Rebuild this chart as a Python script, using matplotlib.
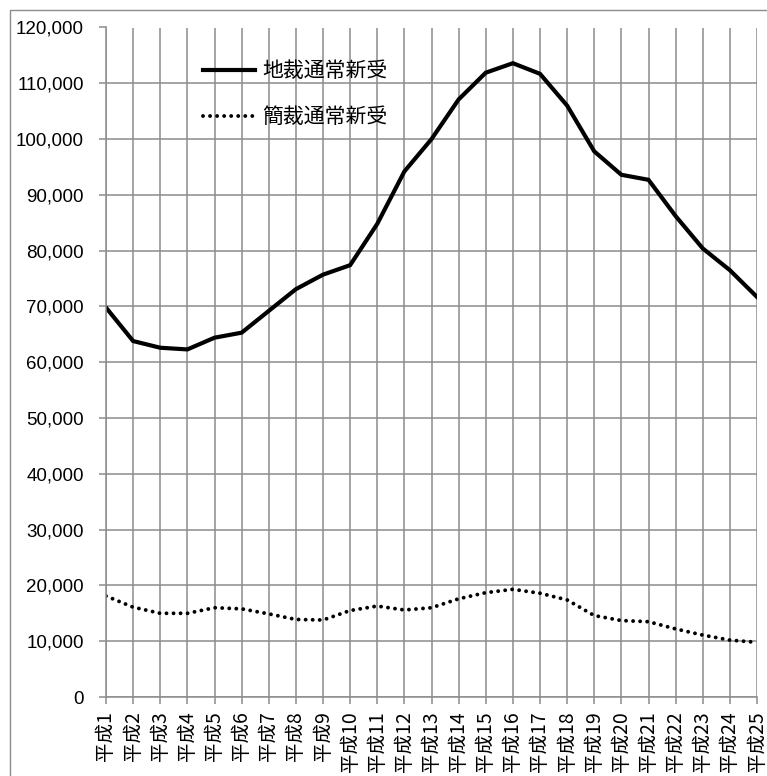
import numpy as np
import matplotlib.pyplot as plt
from matplotlib.patches import Rectangle
from matplotlib.ticker import FuncFormatter, MultipleLocator

# 年度ラベル（平成1〜平成25）
years = [f"平成{i}" for i in range(1, 26)]

# 地裁通常新受
chisai = [69800, 63800, 62600, 62300, 64400, 65300, 69200, 73100, 75700, 77400,
          84800, 94200, 100000, 107100, 111900, 113600, 111700, 106000, 97800, 93600,
          92700, 86200, 80400, 76500, 71700]

# 簡裁通常新受
kansai = [18100, 16100, 15000, 15000, 16000, 15800, 14900, 13900, 13800, 15500,
          16300, 15600, 16000, 17600, 18700, 19300, 18600, 17400, 14600, 13700,
          13500, 12200, 11100, 10200, 9800]

W, H = 767, 776
fig = plt.figure(figsize=(W / 100, H / 100), dpi=100)

# 外枠（グラフエリアの枠線）
fig.patches.append(Rectangle((10 / W, -0.1), 1.2, 1 - 10 / H + 0.1,
                             transform=fig.transFigure, fill=False,
                             edgecolor='#8c8c8c', linewidth=1.0))

left, right, top, bottom = 106, 757, 27.5, 697
ax = fig.add_axes([left / W, 1 - bottom / H, (right - left) / W, (bottom - top) / H])

x = np.arange(len(years))
ax.plot(x, chisai, color='black', linewidth=3.0, solid_joinstyle='miter',
        label='地裁通常新受')
ax.plot(x, kansai, color='black', linewidth=2.8, linestyle=(0, (0.01, 1.8)),
        dash_capstyle='round', label='簡裁通常新受')

ax.set_xlim(0, len(years) - 1)
ax.set_ylim(0, 120000)
ax.yaxis.set_major_locator(MultipleLocator(10000))
ax.yaxis.set_major_formatter(FuncFormatter(lambda v, p: f"{int(v):,}"))
ax.set_xticks(x)
ax.set_xticklabels(years, rotation=90, family=['Noto Sans CJK JP', 'DejaVu Sans'],
                   fontsize=14)
for lab in ax.get_yticklabels():
    lab.set_family(['Liberation Sans'])
    lab.set_fontsize(13.5)

grid_c = '#8c8c8c'
ax.grid(True, color=grid_c, linewidth=1.1)
ax.set_axisbelow(True)
for side in ['top', 'right']:
    ax.spines[side].set_visible(False)
for side in ['left', 'bottom']:
    ax.spines[side].set_color(grid_c)
    ax.spines[side].set_linewidth(1.1)
ax.tick_params(axis='both', color=grid_c, length=5, width=1.1, labelcolor='black')
ax.tick_params(axis='y', pad=11)
ax.tick_params(axis='x', pad=5)

leg = ax.legend(loc='upper left', bbox_to_anchor=(0.12, 0.979), frameon=False,
                prop={'family': ['Noto Sans CJK JP'], 'size': 15},
                handlelength=2.5, handletextpad=0.35, labelspacing=1.15,
                borderpad=0.4)

fig.savefig('out.png', dpi=100, facecolor='white')
